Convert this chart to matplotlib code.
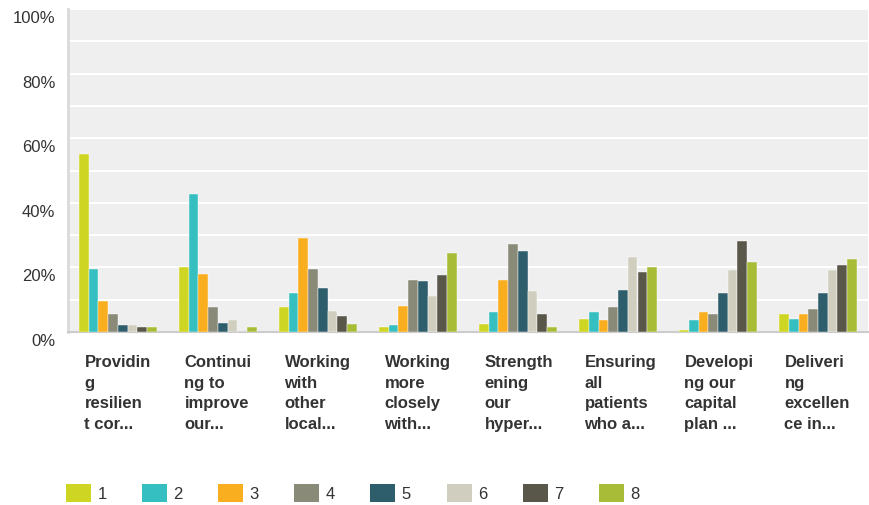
import matplotlib
matplotlib.use("Agg")
import matplotlib.pyplot as plt
from matplotlib.patches import Patch
from matplotlib.transforms import ScaledTranslation, blended_transform_factory
import numpy as np

plt.rcParams['font.family'] = ['Liberation Sans', 'DejaVu Sans']

categories = ["Providin\ng\nresilien\nt cor...", "Continui\nng to\nimprove\nour...",
              "Working\nwith\nother\nlocal...", "Working\nmore\nclosely\nwith...",
              "Strength\nening\nour\nhyper...", "Ensuring\nall\npatients\nwho a...",
              "Developi\nng our\ncapital\nplan ...", "Deliveri\nng\nexcellen\nce in..."]
series_names = ["1", "2", "3", "4", "5", "6", "7", "8"]
colors = ["#cfd523", "#35bfc0", "#f8ae1f", "#8a8a78", "#2e5e6c", "#cfcebf", "#59574a", "#a8bc38"]

# percent values, one list per series (rank), across the 8 categories
s1 = [55.1, 20.2, 7.6, 1.5, 2.6, 4.1, 0.6, 5.6]
s2 = [19.6, 42.7, 12.2, 2.2, 6.2, 6.2, 3.7, 4.1]
s3 = [9.6, 18.1, 29.1, 8.1, 16.1, 3.7, 6.2, 5.6]
s4 = [5.7, 7.6, 19.6, 16.1, 27.2, 7.6, 5.6, 7.1]
s5 = [2.2, 2.7, 13.6, 15.7, 25.1, 13.1, 12.2, 12.2]
s6 = [2.2, 3.6, 6.6, 11.1, 12.7, 23.1, 19.2, 19.2]
s7 = [1.5, 0.0, 5.1, 17.6, 5.6, 18.6, 28.2, 20.6]
s8 = [1.5, 1.5, 2.6, 24.6, 1.5, 20.1, 21.7, 22.6]
series = [s1, s2, s3, s4, s5, s6, s7, s8]

fig = plt.figure(figsize=(8.7, 5.05), dpi=100)
ax = fig.add_axes([68 / 870, 1 - 332 / 505, 800 / 870, 323 / 505])
ax.set_facecolor("#efefef")

x = np.arange(len(categories))
w = 0.0975
for k, vals in enumerate(series):
    ax.bar(x - 0.39 + w * (k + 0.5), vals, width=w, color=colors[k],
           edgecolor="white", linewidth=0.3, zorder=3)

ax.set_xlim(-0.5, len(categories) - 0.5)
ax.set_ylim(0, 100)
ax.set_yticks([0, 20, 40, 60, 80, 100])
ax.set_yticklabels(["0%", "20%", "40%", "60%", "80%", "100%"])
for yv in range(10, 101, 10):
    ax.axhline(yv, color="white", linewidth=1.5, zorder=1)
ax.set_xticks([])
ax.tick_params(axis="y", length=0, pad=9, labelsize=12, labelcolor="#333333")
off = ScaledTranslation(0, -8 / 100, fig.dpi_scale_trans)
for lab in ax.get_yticklabels():
    lab.set_transform(lab.get_transform() + off)

for s in ["top", "right"]:
    ax.spines[s].set_visible(False)
ax.spines["left"].set_color("#d9d9d9")
ax.spines["left"].set_linewidth(2)
ax.spines["bottom"].set_color("#cccccc")
ax.spines["bottom"].set_linewidth(1.5)

trans = blended_transform_factory(ax.transData, fig.transFigure)
for i, cat in enumerate(categories):
    ax.text(i - 0.335, 1 - 355 / 505, cat, transform=trans, ha="left", va="top",
            fontsize=12, fontweight="bold", color="#333333", linespacing=1.47)

handles = [Patch(facecolor=c, edgecolor="none") for c in colors]
fig.legend(handles, series_names, loc="center left", bbox_to_anchor=(66 / 870, 1 - 493 / 505),
           ncol=8, frameon=False, fontsize=12, handlelength=1.5, handleheight=1.3,
           handletextpad=0.38, columnspacing=2.13, borderpad=0, borderaxespad=0,
           labelcolor="#333333")

fig.savefig("out.png", dpi=100)
